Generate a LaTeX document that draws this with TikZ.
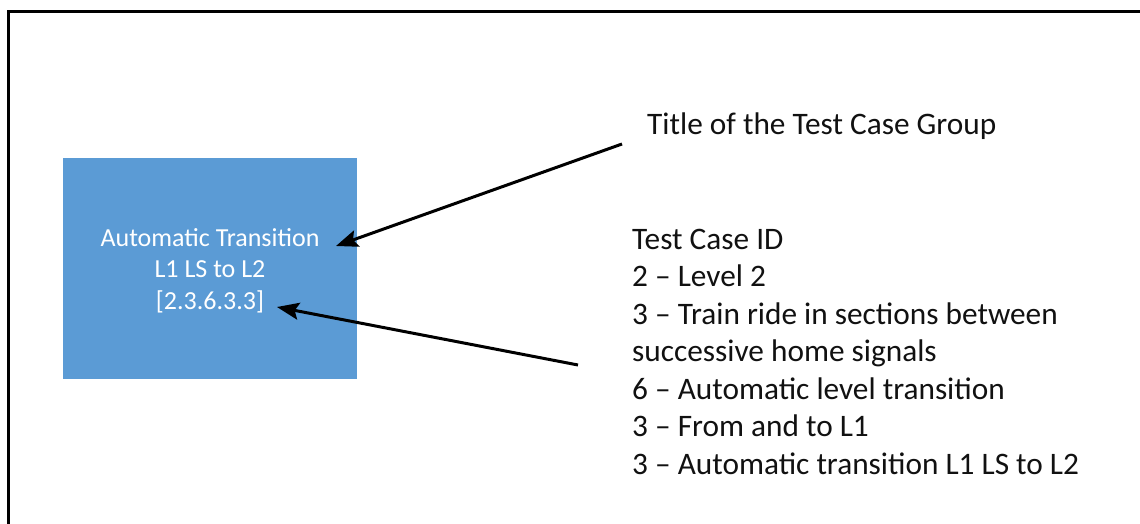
\documentclass[tikz,border=0pt]{standalone}
\usepackage{fontspec}
\setmainfont{Carlito}
\usetikzlibrary{arrows.meta,calc}
\definecolor{boxblue}{HTML}{5B9BD5}
\definecolor{ink}{HTML}{111111}
\tikzset{
  frame/.style={line width=2.6pt, draw=black},
  bluebox/.style={fill=boxblue, draw=none, minimum width=294pt, minimum height=221pt, inner sep=0pt},
  boxtext/.style={text=white, align=center, font={\fontsize{26}{31.5}\selectfont}, inner sep=0pt},
  label/.style={text=ink, align=left, font={\fontsize{31.3}{37.5}\selectfont}, inner sep=0pt},
  pointer/.style={line width=3pt, draw=black, -{Stealth[length=22pt,width=17pt,inset=4pt]}}
}
\begin{document}
\begin{tikzpicture}[x=1pt,y=-1pt]
\useasboundingbox (0,0) rectangle (1140,524);
\fill[white] (0,0) rectangle (1140,524);
\draw[frame] (8.7,524) -- (8.7,11.3) -- (1140,11.3);
\node[bluebox] (box) at (210,268.5) {};
\node[boxtext, anchor=base] (boxtxt) at (210,309) {Automatic Transition\\L1 LS to L2\\{[2.3.6.3.3]}};
\node[label, anchor=base west] (title) at (647,135) {Title of the Test Case Group};
\node[label, anchor=base west] (list) at (632,474) {Test Case ID\\2 – Level 2\\3 – Train ride in sections between\\successive home signals\\6 – Automatic level transition\\3 – From and to L1\\3 – Automatic transition L1 LS to L2};
\coordinate (a1s) at (622,144);
\coordinate (a1e) at (336,246);
\coordinate (a2s) at (578,365);
\coordinate (a2e) at (277,307);
\draw[pointer] (a1s) -- (a1e);
\draw[pointer] (a2s) -- (a2e);
\end{tikzpicture}
\end{document}
